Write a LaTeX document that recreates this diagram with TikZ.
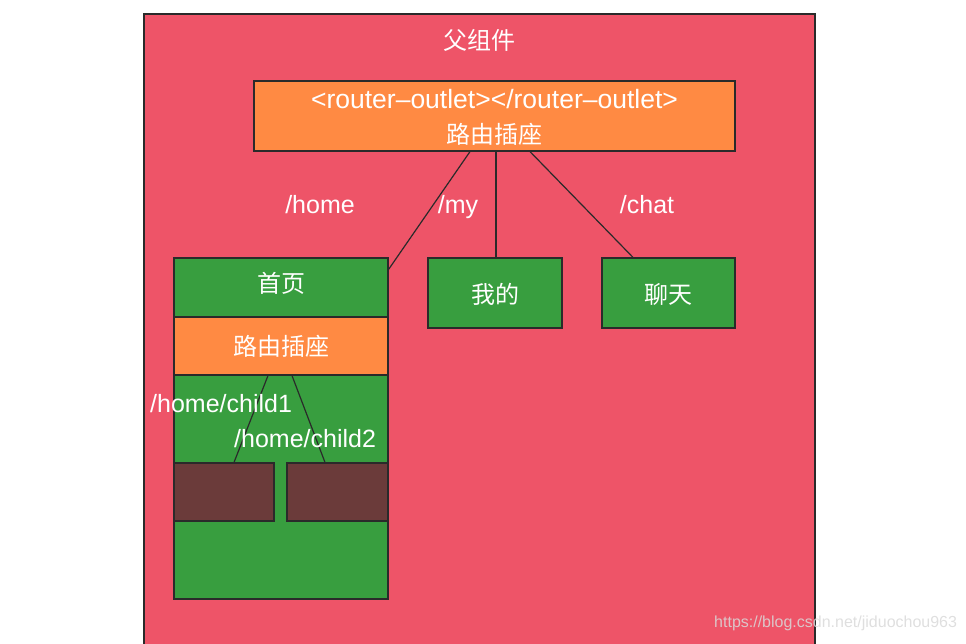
\documentclass[tikz,border=0pt]{standalone}
\usepackage{fontspec}
\setmainfont{Liberation Sans}
\newfontfamily\cjk{Noto Sans CJK SC}
\definecolor{pinkbg}{HTML}{EE5468}
\definecolor{orangebox}{HTML}{FF8A43}
\definecolor{greenbox}{HTML}{389E3F}
\definecolor{brownbox}{HTML}{6B3B3A}
\definecolor{edge}{HTML}{2A2A2A}
\tikzset{
  box/.style={draw=edge, line width=1.2pt, inner sep=0pt},
  wtext/.style={text=white, font=\fontsize{25}{29}\selectfont, inner sep=0pt, anchor=base},
  ctext/.style={text=white, font=\cjk\fontsize{24}{28}\selectfont, inner sep=0pt},
  link/.style={draw=edge, line width=1.2pt}
}
\begin{document}
\begin{tikzpicture}[x=1pt,y=-1pt]
\useasboundingbox (0,0) rectangle (966,643);
\begin{scope}
\clip (0,0) rectangle (966,643);
\node[box, fill=pinkbg, minimum width=671pt, minimum height=646pt] (parent) at (479.5,337) {};
\end{scope}
\node[ctext] (ptitle) at (479,40) {父组件};
\node[box, fill=orangebox, minimum width=481pt, minimum height=70pt] (outlet) at (494.5,116) {};
\node[wtext, font=\fontsize{26.5}{30}\selectfont] (otag) at (494.5,108) {<router–outlet></router–outlet>};
\node[ctext] (olabel) at (494.5,134) {路由插座};
\node[box, fill=greenbox, minimum width=214pt, minimum height=341pt] (home) at (281,428.5) {};
\node[ctext] (homet) at (281,283) {首页};
\node[box, fill=orangebox, minimum width=214pt, minimum height=58pt] (strip) at (281,346) {};
\node[ctext] (stript) at (281,346) {路由插座};
\node[box, fill=brownbox, minimum width=100pt, minimum height=58pt] (b1) at (224,492) {};
\node[box, fill=brownbox, minimum width=101pt, minimum height=58pt] (b2) at (337.5,492) {};
\node[box, fill=greenbox, minimum width=134pt, minimum height=70pt] (my) at (495,293) {};
\node[ctext] (myt) at (495,294) {我的};
\node[box, fill=greenbox, minimum width=133pt, minimum height=70pt] (chat) at (668.5,293) {};
\node[ctext] (chatt) at (668.5,294) {聊天};
\draw[link] ([xshift=-24.5pt]outlet.south) -- ([yshift=-12pt]home.north east);
\draw[link] ([xshift=1.5pt]outlet.south) -- ([xshift=1pt]my.north);
\draw[link] ([xshift=35.5pt]outlet.south) -- ([xshift=-35.5pt]chat.north);
\draw[link] ([xshift=-13pt]strip.south) -- ([xshift=10pt]b1.north);
\draw[link] ([xshift=11pt]strip.south) -- ([xshift=-12.5pt]b2.north);
\node[wtext] (lhome) at (320,213) {/home};
\node[wtext] (lmy) at (458,213) {/my};
\node[wtext] (lchat) at (647,213) {/chat};
\node[wtext, anchor=base west] (lc1) at (150,412) {/home/child1};
\node[wtext, anchor=base west] (lc2) at (234,447) {/home/child2};
\node[text=white!85!black, opacity=0.85, font=\fontsize{16}{18}\selectfont, inner sep=0pt, anchor=west] (wm) at (714,623) {https://blog.csdn.net/jiduochou963};
\end{tikzpicture}
\end{document}
